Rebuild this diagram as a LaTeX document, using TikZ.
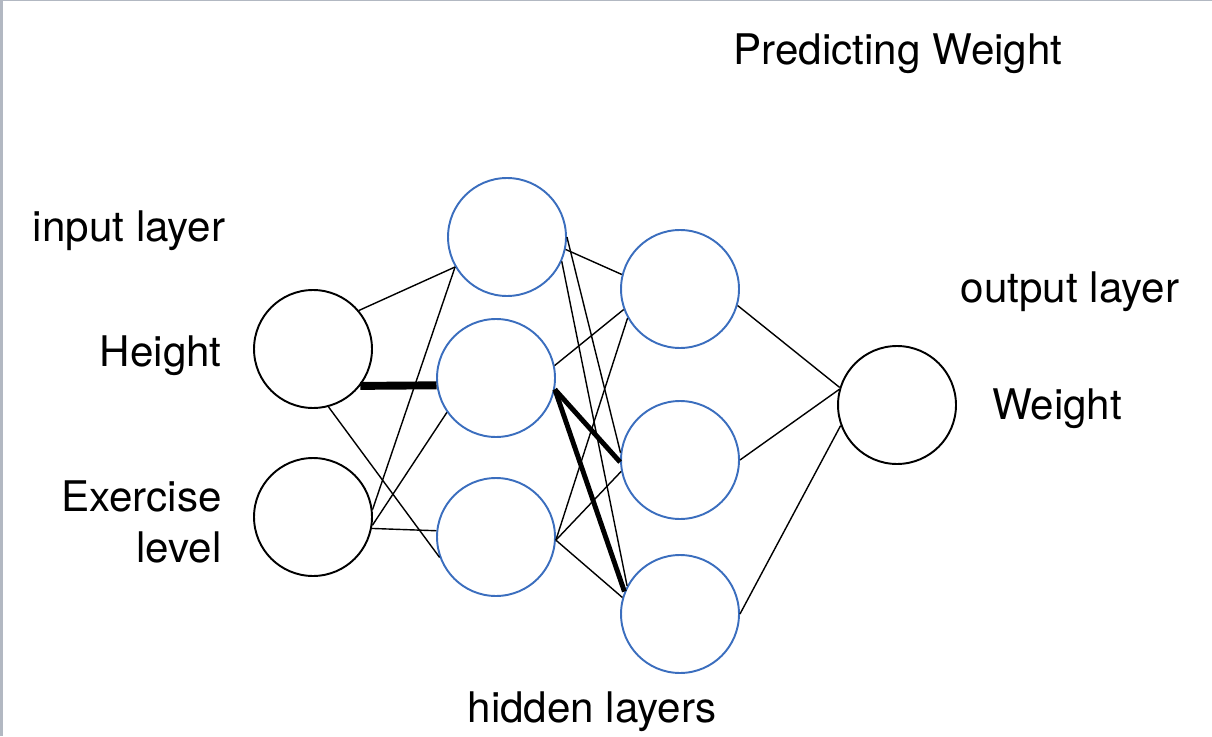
\documentclass[tikz,border=0pt]{standalone}
\usepackage{fontspec}
\setmainfont{TeX Gyre Heros}
\definecolor{neuronblue}{RGB}{59,110,190}
\definecolor{framegray}{RGB}{178,184,194}
\begin{document}
\begin{tikzpicture}[x=0.02cm,y=-0.02cm,
  neuron/.style={circle,draw,line width=1.1pt,minimum size=2.36cm,inner sep=0pt},
  hidden/.style={neuron,draw=neuronblue},
  lbl/.style={inner sep=0pt,font=\fontsize{24}{29.5}\selectfont},
  wire/.style={line width=0.8pt},
  heavy/.style={line width=2.8pt}]
\useasboundingbox (0,0) rectangle (1212,736);
\draw[framegray,line width=1.7pt] (1.5,736) -- (1.5,0);
\draw[framegray,line width=0.6pt] (0,0.5) -- (1212,0.5);

% neurons
\node[neuron] (hgt) at (313,349) {};
\node[neuron] (exc) at (313,517) {};
\node[hidden] (a1) at (507,237) {};
\node[hidden] (a2) at (496,378) {};
\node[hidden] (a3) at (496,537) {};
\node[hidden] (b1) at (680,289) {};
\node[hidden] (b2) at (680,460) {};
\node[hidden] (b3) at (680,614) {};
\node[neuron] (out) at (897,405) {};

% connections
\foreach \s/\t in {hgt.40/a1.210, hgt.-75/a3.200,
  exc.7/a1.210, exc.-8/a2.215, exc.-11/a3.174,
  a1.-12/b1.166, a1.0/b2.173, a1.-24/b3.152, a2.12/b1.200,
  a3.-3/b1.209, a3.-3/b2.191, a3.-3/b3.164,
  b1.-16/out.163, b2.0/out.165, b3.0/out.200}
  \draw[wire] (\s) -- (\t);
\draw[heavy,line width=4.5pt] (hgt.-38) -- (a2.187);
\foreach \t in {b2.182,b3.158} \draw[heavy] (a2.-11) -- (\t);

% labels
\node[lbl] (ttl) at (898,54) {Predicting Weight};
\node[lbl] (inl) at (129,231) {input layer};
\node[lbl,anchor=east] (hgtl) at (222,356) {Height};
\node[lbl,anchor=east,align=right] (excl) at (222,522) {Exercise\\level};
\node[lbl] (outl) at (1070,292) {output layer};
\node[lbl] (wgtl) at (1057,409) {Weight};
\node[lbl] (hidl) at (592,712) {hidden layers};

\end{tikzpicture}
\end{document}
